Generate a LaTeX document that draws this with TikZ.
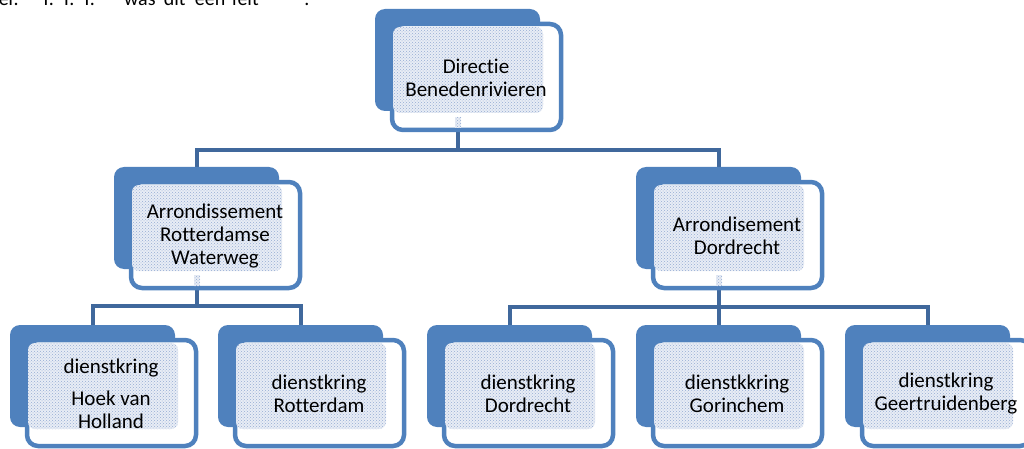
\documentclass[tikz,border=0pt]{standalone}
\usepackage{fontspec}
\setmainfont{Carlito}[Ligatures={NoCommon,NoContextual}]
\usetikzlibrary{patterns}
\pgfdeclarelayer{bg}
\pgfsetlayers{bg,main}
\definecolor{boxblue}{RGB}{79,129,189}
\definecolor{connblue}{RGB}{64,104,156}
\definecolor{hatchbase}{RGB}{232,237,245}
\definecolor{hatchdot}{RGB}{150,172,212}
\tikzset{
  backbox/.style={anchor=north west, fill=boxblue, minimum width=165pt, minimum height=102pt, inner sep=0pt, outer sep=0pt, rounded corners=10pt},
  frontbox/.style={anchor=north west, draw=boxblue, line width=4.5pt, fill=white, minimum width=169pt, minimum height=106pt, inner sep=0pt, outer sep=0pt, rounded corners=11pt},
  hatchbox/.style={anchor=north west, preaction={fill=hatchbase}, pattern=crosshatch dots, pattern color=hatchdot, minimum width=150pt, minimum height=86pt, inner sep=0pt, outer sep=0pt, rounded corners=7pt},
  tabbox/.style={anchor=north west, preaction={fill=hatchbase}, pattern=crosshatch dots, pattern color=hatchdot, minimum width=6pt, minimum height=11pt, inner sep=0pt, outer sep=0pt},
  lbl/.style={align=center, inner sep=0pt, font=\fontsize{21}{23}\selectfont, text=black},
  conn/.style={draw=connblue, line width=4pt}
}
\newcommand\orgunit[4]{%
  \node[backbox] (#1-b) at (#2,#3) {};
  \node[frontbox] (#1-f) at ([shift={(17,15)}]#1-b.north west) {};
  \node[hatchbox] (#1-h) at ([shift={(18,18)}]#1-b.north west) {};
  \node[lbl] (#1) at ([shift={(101,69)}]#1-b.north west) {#4};
}
\newcommand\orgtab[1]{%
  \node[tabbox] (#1-tab) at ([shift={(80,108)}]#1-b.north west) {};
}
\begin{document}
\begin{tikzpicture}[x=1pt,y=-1pt]
\useasboundingbox (0,0) rectangle (1024,449);
\node[anchor=base west, inner sep=0pt, font=\fontsize{20}{24}\selectfont] (intro) at (-6,6)
  {ier.\hspace{22.4pt}T.\hspace{7.7pt}T.\hspace{7.7pt}T.\hspace{29.2pt}was\hspace{8.3pt}dit\hspace{9.2pt}een\hspace{6.6pt}feit\hspace{45.7pt}.};
\orgunit{top}{375}{9}{Directie\\Benedenrivieren}
\orgunit{arrRW}{114}{167}{Arrondissement\\Rotterdamse\\Waterweg}
\orgunit{arrD}{636}{167}{Arrondisement\\Dordrecht}
\orgtab{top}
\orgtab{arrRW}
\orgtab{arrD}
\orgunit{hvh}{10}{325}{dienstkring\\[9pt]Hoek van\\Holland}
\orgunit{rdam}{218}{325}{dienstkring\\Rotterdam}
\orgunit{ddr}{427}{325}{dienstkring\\Dordrecht}
\orgunit{gor}{636}{325}{dienstkkring\\Gorinchem}
\orgunit{geer}{845}{325}{dienstkring\\Geertruidenberg}
\coordinate (bus1) at (0,150);
\coordinate (bus2) at (0,306);
\coordinate (bus3) at (0,307);
\begin{pgfonlayer}{bg}
\draw[conn] (top-b.center) -- (top-b.center |- bus1) -| (arrRW-b.north);
\draw[conn] (top-b.center |- bus1) -| (arrD-b.north);
\draw[conn] (arrRW-b.center) -- (arrRW-b.center |- bus2) -| (hvh-b.north);
\draw[conn] (arrRW-b.center |- bus2) -| (rdam-b.north);
\draw[conn] (arrD-b.center) -- (gor-b.north);
\draw[conn] (arrD-b.center |- bus3) -| (ddr-b.north);
\draw[conn] (arrD-b.center |- bus3) -| (geer-b.north);
\end{pgfonlayer}
\end{tikzpicture}
\end{document}
